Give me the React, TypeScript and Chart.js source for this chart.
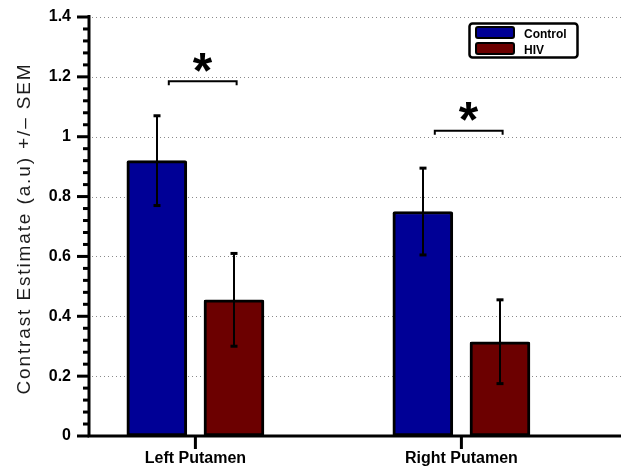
import React, { useEffect, useRef } from 'react';
import { Chart, registerables } from 'chart.js';

Chart.register(...registerables);

// ---- data ----
const categories = ['Left Putamen', 'Right Putamen'];
const seriesNames = ['Control', 'HIV'];
const controlMeans = [0.92, 0.75];
const controlSem = [0.15, 0.145];
const hivMeans = [0.455, 0.315];
const hivSem = [0.155, 0.14];
const sigBracketLevels = [1.185, 1.02];
const sigMarks = ['*', '*'];
const yMin = 0;
const yMax = 1.4;
const yStep = 0.2;
const yTitle = 'Contrast Estimate (a.u) +/\u2013 SEM';

const FONT = '"Liberation Sans", Arial, Helvetica, sans-serif';
const colors = ['#000096', '#6c0000'];
const barOffset = 0.145;

const overlayPlugin = {
  id: 'overlay',
  beforeDatasetsDraw(chart: any) {
    const { ctx, chartArea, scales } = chart;
    const y = scales.y;
    ctx.save();
    ctx.strokeStyle = '#8a8a8a';
    ctx.lineWidth = 1;
    ctx.setLineDash([1, 3]);
    y.ticks.forEach((t: any) => {
      if (t.value <= 0) return;
      const py = Math.round(y.getPixelForValue(t.value)) + 0.5;
      ctx.beginPath();
      ctx.moveTo(chartArea.left + 3, py);
      ctx.lineTo(chartArea.right, py);
      ctx.stroke();
    });
    ctx.restore();
  },
  afterDatasetsDraw(chart: any) {
    const { ctx, chartArea, scales } = chart;
    const x = scales.x;
    const y = scales.y;
    const sems = [controlSem, hivSem];
    const means = [controlMeans, hivMeans];
    ctx.save();
    ctx.setLineDash([]);

    // error bars
    chart.data.datasets.forEach((_ds: any, d: number) => {
      const meta = chart.getDatasetMeta(d);
      meta.data.forEach((el: any, i: number) => {
        const cx = Math.round(el.x);
        const top = y.getPixelForValue(means[d][i] + sems[d][i]);
        const bot = y.getPixelForValue(means[d][i] - sems[d][i]);
        ctx.strokeStyle = '#000';
        ctx.lineWidth = 2;
        ctx.beginPath();
        ctx.moveTo(cx, top);
        ctx.lineTo(cx, bot);
        ctx.stroke();
        ctx.fillStyle = '#000';
        ctx.fillRect(cx - 3.5, top - 1.5, 7, 3);
        ctx.fillRect(cx - 3.5, bot - 1.5, 7, 3);
      });
    });

    // axes
    ctx.strokeStyle = '#000';
    ctx.fillStyle = '#000';
    ctx.lineWidth = 3;
    const ax = chartArea.left;
    const ay = chartArea.bottom;
    ctx.beginPath();
    ctx.moveTo(ax, chartArea.top - 2);
    ctx.lineTo(ax, ay);
    ctx.lineTo(chartArea.right, ay);
    ctx.stroke();

    // y ticks (major + minor)
    const nMinor = Math.round((yMax - yMin) / (yStep / 5));
    for (let i = 0; i <= nMinor; i++) {
      const v = yMin + (i * yStep) / 5;
      const py = y.getPixelForValue(v);
      const major = i % 5 === 0;
      ctx.fillRect(ax - (major ? 12 : 6), py - 1.5, major ? 12 : 6, 3);
    }
    // x ticks
    categories.forEach((_c, i) => {
      const px = x.getPixelForValue(i + 1);
      ctx.fillRect(px - 1.5, ay, 3, 13);
    });

    // significance brackets
    sigBracketLevels.forEach((lvl, i) => {
      const x1 = x.getPixelForValue(i + 1 - 0.1);
      const x2 = x.getPixelForValue(i + 1 + 0.155);
      const py = y.getPixelForValue(lvl);
      ctx.lineWidth = 2;
      ctx.beginPath();
      ctx.moveTo(x1, py + 4);
      ctx.lineTo(x1, py);
      ctx.lineTo(x2, py);
      ctx.lineTo(x2, py + 4);
      ctx.stroke();
      ctx.font = 'bold 50px ' + FONT;
      ctx.textAlign = 'left';
      ctx.textBaseline = 'alphabetic';
      const m = ctx.measureText(sigMarks[i]);
      const gw = m.actualBoundingBoxLeft + m.actualBoundingBoxRight;
      const gh = m.actualBoundingBoxAscent + m.actualBoundingBoxDescent;
      const cx = (x1 + x2) / 2;
      const cy = py - 19;
      ctx.fillText(
        sigMarks[i],
        cx - gw / 2 + m.actualBoundingBoxLeft,
        cy - gh / 2 + m.actualBoundingBoxAscent
      );
    });

    // legend
    ctx.lineWidth = 2.5;
    ctx.beginPath();
    ctx.roundRect(469.5, 23.5, 108, 34, 3);
    ctx.stroke();
    chart.data.datasets.forEach((ds: any, d: number) => {
      const sy = 27 + d * 16;
      ctx.fillStyle = ds.backgroundColor;
      ctx.beginPath();
      ctx.roundRect(476, sy, 38, 11, 2);
      ctx.fill();
      ctx.lineWidth = 2;
      ctx.strokeStyle = '#000';
      ctx.stroke();
      ctx.fillStyle = '#000';
      ctx.font = 'bold 12px ' + FONT;
      ctx.textAlign = 'left';
      ctx.textBaseline = 'alphabetic';
      ctx.fillText(ds.label, 524, sy + 11);
    });

    // y title
    ctx.save();
    ctx.translate(30, (chartArea.top + chartArea.bottom) / 2 + 2);
    ctx.rotate(-Math.PI / 2);
    ctx.font = '19px ' + FONT;
    ctx.fillStyle = '#1c1c1c';
    ctx.textAlign = 'left';
    ctx.textBaseline = 'alphabetic';
    (ctx as any).letterSpacing = '0px';
    const w0 = ctx.measureText(yTitle).width;
    const ls = (332 - w0) / yTitle.length;
    (ctx as any).letterSpacing = ls + 'px';
    ctx.fillText(yTitle, -166, 0);
    (ctx as any).letterSpacing = '0px';
    ctx.restore();

    ctx.restore();
  },
};

export default function App() {
  const ref = useRef<HTMLCanvasElement | null>(null);
  useEffect(() => {
    if (!ref.current) return;
    const chart = new Chart(ref.current, {
      type: 'bar',
      data: {
        datasets: [
          {
            label: seriesNames[0],
            data: controlMeans.map((v, i) => ({ x: i + 1 - barOffset, y: v })),
            backgroundColor: colors[0],
            borderColor: '#000',
            borderWidth: 3,
            borderSkipped: false,
            borderRadius: 2,
            barThickness: 60,
            grouped: false,
          } as any,
          {
            label: seriesNames[1],
            data: hivMeans.map((v, i) => ({ x: i + 1 + barOffset, y: v })),
            backgroundColor: colors[1],
            borderColor: '#000',
            borderWidth: 3,
            borderSkipped: false,
            borderRadius: 2,
            barThickness: 60,
            grouped: false,
          } as any,
        ],
      },
      options: {
        responsive: false,
        animation: false,
        devicePixelRatio: 1,
        layout: { padding: { left: 0, top: 17, right: 0, bottom: 0 } },
        plugins: { legend: { display: false }, tooltip: { enabled: false } },
        scales: {
          x: {
            type: 'linear',
            min: 0.6,
            max: 2.6,
            offset: false,
            grid: { display: false, drawTicks: false, offset: false },
            border: { display: false },
            afterBuildTicks: (scale: any) => {
              scale.ticks = categories.map((_c, i) => ({ value: i + 1 }));
            },
            afterFit: (scale: any) => {
              scale.height = 40;
              scale.paddingLeft = 0;
              scale.paddingRight = 0;
            },
            ticks: {
              autoSkip: false,
              maxRotation: 0,
              padding: 13,
              color: '#000',
              font: { family: FONT, size: 16, weight: 'bold' },
              callback: (v: any) => categories[Math.round(Number(v)) - 1] ?? '',
            },
          } as any,
          y: {
            type: 'linear',
            min: yMin,
            max: yMax,
            grid: { display: false, drawTicks: false },
            border: { display: false },
            afterFit: (scale: any) => {
              scale.width = 89;
              scale.paddingTop = 0;
              scale.paddingBottom = 0;
            },
            ticks: {
              stepSize: yStep,
              padding: 18,
              color: '#000',
              font: { family: FONT, size: 16, weight: 'bold' },
              callback: (v: any) => String(Math.round(Number(v) * 10) / 10),
            },
          } as any,
        },
      },
      plugins: [overlayPlugin],
    });
    return () => chart.destroy();
  }, []);
  return (
    <div style={{ position: 'absolute', left: 0, top: 0, width: 621, height: 476 }}>
      <canvas ref={ref} width={621} height={476} style={{ width: 621, height: 476 }} />
    </div>
  );
}
